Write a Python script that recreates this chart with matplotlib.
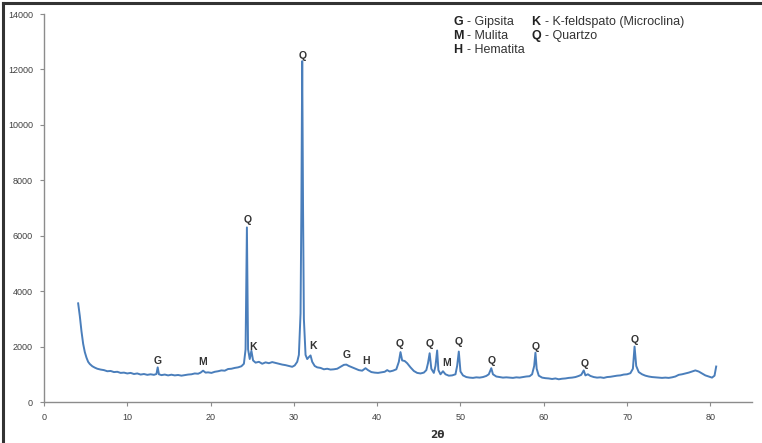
import matplotlib
matplotlib.use("Agg")
import matplotlib.pyplot as plt
from matplotlib.lines import Line2D

# difractograma (2theta vs intensidade)
two_theta = [
    4.1, 4.3, 4.5, 4.7, 4.9, 5.1, 5.3, 5.5, 5.8, 6.1,
    6.4, 6.8, 7.2, 7.6, 8.0, 8.4, 8.8, 9.2, 9.6, 10.0,
    10.4, 10.8, 11.2, 11.6, 12.0, 12.4, 12.8, 13.2, 13.5, 13.65,
    13.8, 14.1, 14.5, 14.9, 15.3, 15.7, 16.1, 16.5, 16.9, 17.3,
    17.7, 18.1, 18.5, 18.8, 19.1, 19.4, 19.7, 20.1, 20.5, 20.9,
    21.3, 21.7, 22.1, 22.5, 22.9, 23.3, 23.7, 24.0, 24.2, 24.36,
    24.5, 24.7, 24.9, 25.1, 25.4, 25.8, 26.2, 26.6, 27.0, 27.4,
    27.8, 28.2, 28.6, 29.0, 29.4, 29.8, 30.1, 30.4, 30.6, 30.8,
    30.9, 31.0, 31.1, 31.2, 31.4, 31.6, 31.8, 32.0, 32.2, 32.5,
    32.8, 33.2, 33.6, 34.0, 34.4, 34.8, 35.2, 35.6, 36.0, 36.3,
    36.6, 37.0, 37.4, 37.8, 38.2, 38.6, 38.9, 39.3, 39.7, 40.1,
    40.5, 40.9, 41.2, 41.5, 41.9, 42.3, 42.6, 42.8, 43.0, 43.3,
    43.6, 44.0, 44.4, 44.8, 45.2, 45.6, 45.9, 46.1, 46.3, 46.5,
    46.8, 47.0, 47.2, 47.35, 47.6, 47.9, 48.2, 48.6, 49.0, 49.4,
    49.6, 49.8, 50.0, 50.3, 50.7, 51.1, 51.5, 51.9, 52.3, 52.7,
    53.1, 53.4, 53.7, 53.9, 54.3, 54.7, 55.1, 55.5, 55.9, 56.3,
    56.7, 57.1, 57.5, 57.9, 58.3, 58.6, 58.85, 59.0, 59.15, 59.4,
    59.8, 60.2, 60.6, 61.0, 61.4, 61.8, 62.2, 62.6, 63.0, 63.4,
    63.8, 64.2, 64.5, 64.8, 65.0, 65.3, 65.6, 66.0, 66.4, 66.8,
    67.2, 67.6, 68.0, 68.4, 68.8, 69.2, 69.6, 70.0, 70.4, 70.7,
    70.9, 71.1, 71.4, 71.8, 72.2, 72.6, 73.0, 73.4, 73.8, 74.2,
    74.6, 75.0, 75.4, 75.8, 76.2, 76.6, 77.0, 77.4, 77.8, 78.2,
    78.6, 79.0, 79.4, 79.8, 80.2, 80.5, 80.7,
]
intensity = [
    3560, 3100, 2550, 2100, 1800, 1600, 1450, 1370, 1290, 1240,
    1200, 1170, 1150, 1110, 1120, 1080, 1090, 1050, 1060, 1030,
    1050, 1010, 1030, 990, 1010, 980, 1000, 980, 1010, 1250,
    1000, 970, 990, 960, 985, 960, 975, 950, 970, 990,
    1000, 1030, 1020, 1060, 1130, 1060, 1070, 1050, 1090, 1110,
    1140, 1130, 1190, 1200, 1230, 1250, 1290, 1380, 1900, 6300,
    1900, 1550, 1850, 1500, 1420, 1450, 1380, 1430, 1400, 1440,
    1410, 1380, 1350, 1330, 1300, 1270, 1320, 1450, 1700, 3200,
    7000, 12300, 7000, 3000, 1700, 1550, 1620, 1680, 1450, 1300,
    1250, 1230, 1180, 1200, 1170, 1180, 1200, 1270, 1340, 1350,
    1300, 1250, 1200, 1150, 1130, 1220, 1150, 1080, 1060, 1050,
    1070, 1090, 1150, 1100, 1130, 1180, 1450, 1800, 1500, 1480,
    1400, 1250, 1120, 1050, 1030, 1060, 1150, 1400, 1760, 1200,
    1050, 1300, 1860, 1150, 1000, 1110, 1000, 950, 960, 1000,
    1300, 1820, 1100, 960, 900, 880, 870, 890, 880, 900,
    940, 1000, 1220, 1000, 920, 900, 880, 890, 880, 870,
    890, 880, 900, 920, 930, 1000, 1300, 1780, 1200, 950,
    880, 860, 850, 830, 850, 820, 840, 850, 870, 880,
    900, 940, 980, 1140, 960, 1000, 940, 900, 880, 890,
    870, 900, 910, 930, 950, 960, 990, 1000, 1040, 1200,
    2000, 1300, 1080, 1000, 950, 920, 900, 890, 880, 870,
    880, 870, 890, 920, 980, 1000, 1030, 1060, 1100, 1140,
    1100, 1030, 960, 920, 880, 950, 1280,
]

# letras dos picos
peak_letters = ["G", "M", "Q", "K", "Q", "K", "G", "H", "Q", "Q", "M", "Q", "Q", "Q", "Q", "Q"]
peak_x = [13.6, 19.1, 24.4, 25.1, 31.1, 32.3, 36.3, 38.7, 42.7, 46.3, 48.3, 49.75, 53.8, 59.0, 64.9, 70.9]
peak_y = [1490, 1450, 6550, 1990, 12500, 2020, 1700, 1490, 2100, 2100, 1420, 2160, 1490, 1990, 1380, 2240]

legend_letters = ["G", "K", "M", "Q", "H"]
legend_names = ["- Gipsita", "- K-feldspato (Microclina)", "- Mulita", "- Quartzo", "- Hematita"]

plt.rcParams["font.family"] = ["Liberation Sans", "DejaVu Sans"]

W, H = 762, 443
fig = plt.figure(figsize=(W / 100, H / 100), dpi=100)
ax = fig.add_axes([44 / W, (H - 402) / H, (752 - 44) / W, (402 - 14) / H])

ax.plot(two_theta, intensity, color="#4A7EBB", linewidth=1.4)

for letter, x, y in zip(peak_letters, peak_x, peak_y):
    ax.text(x, y, letter, ha="center", va="center", fontsize=7.5,
            fontweight="bold", color="#333333")

ax.set_xlim(0, 85)
ax.set_ylim(0, 14000)
ax.set_xticks(range(0, 81, 10))
ax.set_yticks(range(0, 14001, 2000))
for side in ["top", "right"]:
    ax.spines[side].set_visible(False)
for side in ["left", "bottom"]:
    ax.spines[side].set_color("#8c8c8c")
    ax.spines[side].set_linewidth(1.0)
ax.tick_params(colors="#8c8c8c", labelcolor="#404040", labelsize=6.5,
               length=3, width=0.8, direction="out", pad=5)

fig.text(437 / W, 1 - 435 / H, "2θ", ha="center", va="center",
         fontsize=7.5, fontweight="bold", color="#333333", family="DejaVu Sans")

# legenda em texto
letter_px = [453, 531, 453, 531, 453]
name_px = [467, 545, 467, 545, 467]
row_py = [22, 22, 36, 36, 50]
for letter, name, lx, nx, ry in zip(legend_letters, legend_names, letter_px, name_px, row_py):
    fig.text(lx / W, 1 - ry / H, letter, ha="left", va="center",
             fontsize=9, fontweight="bold", color="#222222")
    fig.text(nx / W, 1 - ry / H, name, ha="left", va="center",
             fontsize=9, color="#333333")

# moldura da imagem (so esquerda e topo)
fig.add_artist(Line2D([3 / W, 3 / W], [0, 1 - 3 / H], color="#333333", linewidth=2.2))
fig.add_artist(Line2D([3 / W, 1], [1 - 3 / H, 1 - 3 / H], color="#333333", linewidth=2.2))

fig.savefig("out.png", dpi=100)
